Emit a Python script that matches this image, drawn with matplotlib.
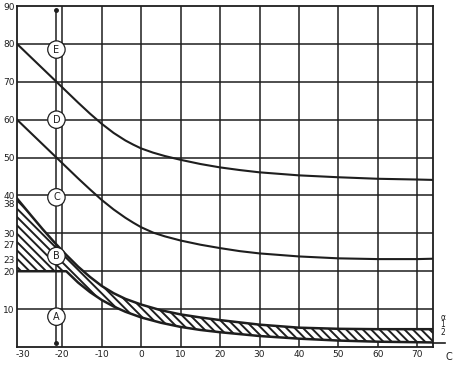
import matplotlib
matplotlib.use("Agg")
import matplotlib.pyplot as plt

# temperature axis (deg C) and the two upper curves
curve_x = [-31.5, -21.5, -16, -13, -10, -7, -4, -2, 0, 3, 6, 10, 15, 20, 25, 30, 40, 50, 60, 70, 74]
curve_e = [80, 70, 64.5, 61.6, 58.9, 56.5, 54.5, 53.4, 52.4, 51.3, 50.4, 49.4, 48.3, 47.4,
           46.7, 46.1, 45.3, 44.8, 44.4, 44.2, 44.1]
curve_d = [60, 50, 44.5, 41.6, 38.8, 36.3, 34.1, 32.8, 31.6, 30.2, 29.2, 28.1, 27.0, 26.1,
           25.3, 24.7, 23.9, 23.4, 23.2, 23.2, 23.3]

# hatched band (top edge and bottom edge)
band_x = [-31.5, -28, -25, -22, -19, -16, -13, -10, -7, -4, 0, 5, 10, 15, 20, 30, 40, 50, 60, 74]
band_top = [39.2, 34.8, 31.1, 27.6, 24.3, 21.2, 18.5, 16.1, 14.2, 12.7, 11.2, 9.7, 8.6, 7.8,
            7.1, 5.9, 5.1, 4.8, 4.7, 4.7]
band_bottom = [20, 20, 20, 20, 20, 17.0, 14.5, 12.4, 10.7, 9.3, 7.8, 6.4, 5.3, 4.5,
               3.9, 2.9, 2.2, 1.7, 1.4, 1.2]

# letters on the vertical reference line
marker_x = -21.5
letters = ["E", "D", "C", "B", "A"]
letter_y = [78.5, 60, 39.5, 24, 8]

xticks = [-30, -20, -10, 0, 10, 20, 30, 40, 50, 60, 70]
yticks = [90, 80, 70, 60, 50, 40, 38, 30, 27, 23, 20, 10]
grid_x = [-20, -10, 0, 10, 20, 30, 40, 50, 60, 70]
grid_y = [10, 20, 30, 40, 50, 60, 70, 80]

ink = "#1e1e1e"
plt.rcParams["hatch.linewidth"] = 1.4
plt.rcParams["hatch.color"] = ink

fig = plt.figure(figsize=(4.56, 3.71), dpi=100)
ax = fig.add_axes([17 / 456, 24 / 371, 416 / 456, 341 / 371])
ax.set_xlim(-31.5, 74)
ax.set_ylim(0, 90)

for gx in grid_x:
    ax.axvline(gx, color=ink, lw=1.1, zorder=1)
for gy in grid_y:
    ax.axhline(gy, color=ink, lw=1.1, zorder=1)

ax.fill_between(band_x, band_bottom, band_top, facecolor="white",
                edgecolor=ink, hatch="\\\\\\\\", linewidth=0, zorder=2)
ax.plot(band_x, band_top, color=ink, lw=1.8, zorder=3)
ax.plot(band_x, band_bottom, color=ink, lw=1.8, zorder=3)

ax.plot(curve_x, curve_e, color=ink, lw=1.5, zorder=3)
ax.plot(curve_x, curve_d, color=ink, lw=1.5, zorder=3)

# vertical reference line with end dots
ax.plot([marker_x, marker_x], [89, 1], color=ink, lw=1.1, zorder=3)
ax.plot([marker_x, marker_x], [89, 1], "o", color=ink, ms=2.5, zorder=3)
for letter, ly in zip(letters, letter_y):
    ax.text(marker_x, ly, letter, ha="center", va="center", fontsize=7,
            color=ink, zorder=5,
            bbox=dict(boxstyle="circle,pad=0.38", fc="white", ec=ink, lw=0.9))

ax.set_xticks(xticks)
ax.set_xticklabels([str(t) for t in xticks])
ax.set_yticks(yticks)
ax.set_yticklabels([str(t) for t in yticks])
ax.tick_params(length=0, labelsize=6.5, colors=ink, pad=2)
ax.tick_params(axis="y", pad=1.5)

for s in ax.spines.values():
    s.set_color(ink)
    s.set_linewidth(1.3)

# extended base line and unit labels at the right
ax.plot([1.0, 1.03], [0.012, 0.012], transform=ax.transAxes, color=ink,
        lw=1.2, clip_on=False)
ax.text(1.037, -0.03, "C", transform=ax.transAxes, ha="center", va="center",
        fontsize=7, color=ink)
ax.text(1.024, 0.03, "α\n1\n2", transform=ax.transAxes, ha="center",
        va="bottom", fontsize=5.5, color=ink, linespacing=0.8)

fig.savefig("out.png", dpi=100, facecolor="white")
